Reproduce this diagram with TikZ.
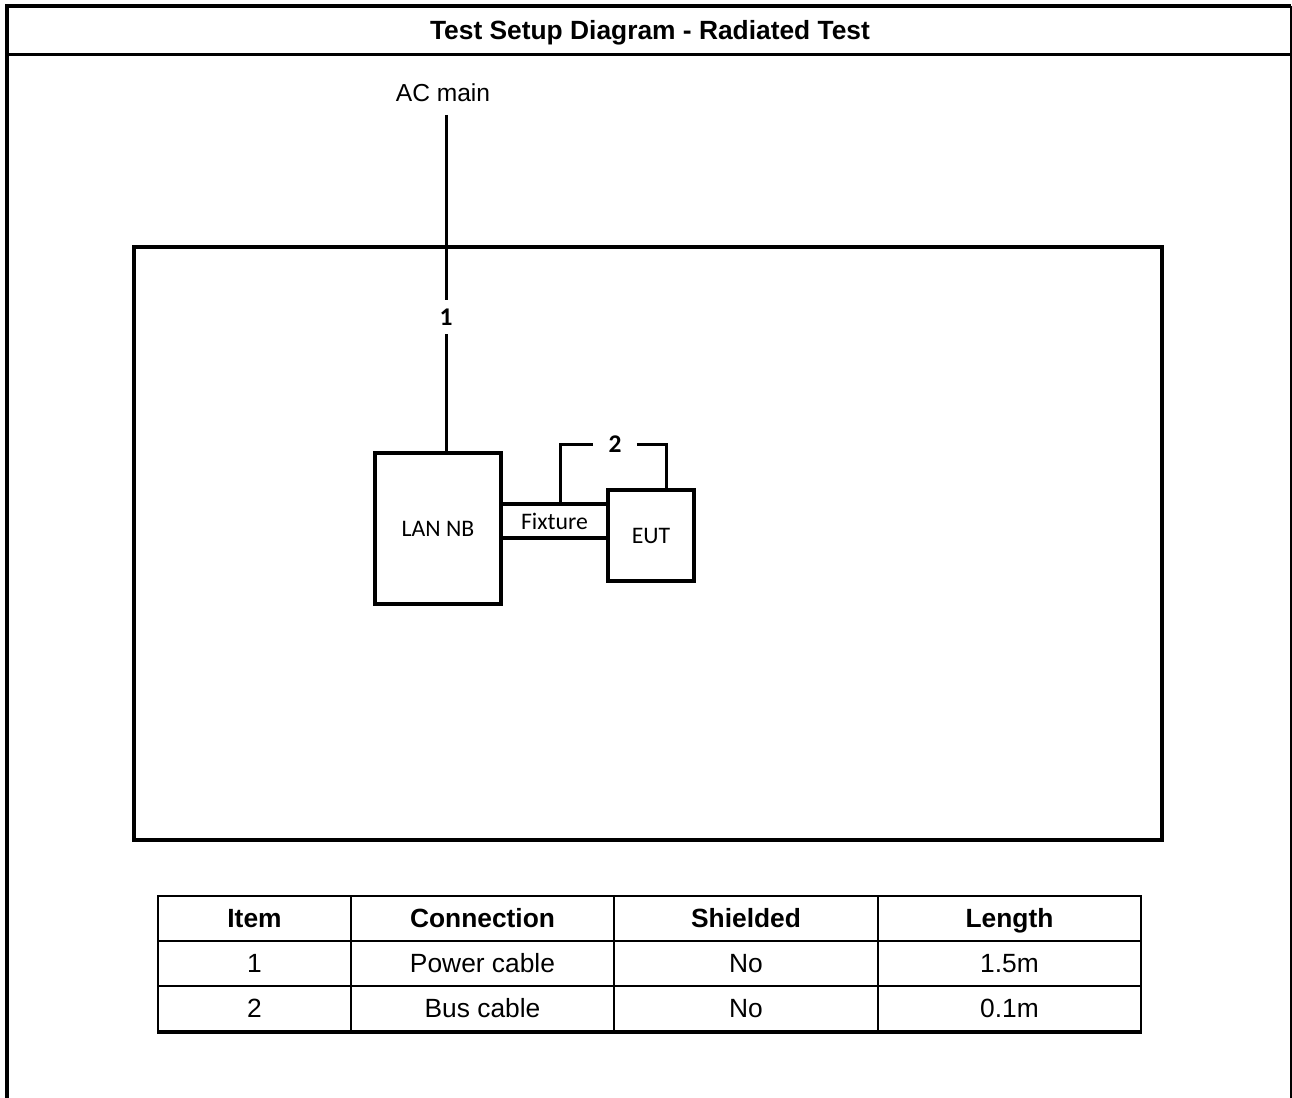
\documentclass[tikz,border=0pt]{standalone}
\usepackage{fontspec}
\setmainfont{Liberation Sans}
\newfontfamily\calibrifont{Carlito}
\usetikzlibrary{calc}

\tikzset{
  pageframe/.style={draw=black, line width=0.08cm},
  setupframe/.style={draw=black, line width=0.08cm},
  unitbox/.style={draw=black, line width=0.08cm, inner sep=0pt, align=center,
                  font=\calibrifont\fontsize{13.5}{16}\selectfont},
  cable/.style={draw=black, line width=0.06cm},
  cablenum/.style={font=\calibrifont\bfseries\fontsize{14.5}{17}\selectfont},
  cell/.style={draw=black, line width=0.04cm, minimum height=0.9cm, inner sep=0pt,
               text height=13.7pt, text depth=3pt,
               font=\fontsize{15}{18}\selectfont},
  headcell/.style={cell, font=\bfseries\fontsize{15}{18}\selectfont},
}

\begin{document}
\begin{tikzpicture}[x=0.02cm, y=-0.02cm]

\useasboundingbox (0,0) rectangle (1292,1098);

% Page frame and title
\draw[pageframe] (7,1098) -- (7,6) -- (1291,6);
\draw[draw=black, line width=0.04cm] (1291,6) -- (1291,1098);
\draw[draw=black, line width=0.05cm] (7,54.5) -- (1291,54.5);
\node[text height=13.7pt, text depth=3pt, inner sep=0pt,
      font=\bfseries\fontsize{15}{18}\selectfont] (title) at (650,30.5) {Test Setup Diagram - Radiated Test};

% Test table outline
\draw[setupframe] (134,247) rectangle (1162,840);

% Units
\node[unitbox, minimum width=2.52cm, minimum height=3.02cm] (lan) at (438,528.5) {LAN NB};
\node[unitbox, minimum width=2.14cm, minimum height=0.68cm] (fixture) at (554.5,521) {Fixture};
\node[unitbox, minimum width=1.72cm, minimum height=1.82cm] (eut) at (651,535.5) {EUT};

% Power cable (1)
\node[inner ysep=0.25cm, font=\fontsize{14}{16}\selectfont] (acmain) at (443,93) {AC main};
\node[cablenum, inner xsep=0pt, inner ysep=0.17cm] (n1) at (446,317) {1};
\draw[cable] (acmain.south -| n1.north) -- (n1.north);
\draw[cable] (n1.south) -- (n1.south |- lan.north);

% Bus cable (2)
\node[cablenum, inner xsep=0.3cm, inner ysep=0pt] (n2) at (615,444) {2};
\draw[cable] ([xshift=0.11cm]fixture.north) |- (n2.west);
\draw[cable] (n2.east) -| ([xshift=0.3cm]eut.north);

% Cable table
\foreach \x/\w/\head/\one/\two [count=\c] in
  {254.5/3.86/Item/1/2,
   482.5/5.26/Connection/Power cable/Bus cable,
   746/5.28/Shielded/No/No,
   1009.5/5.26/Length/1.5m/0.1m} {
  \node[headcell, minimum width=\w cm] (h\c) at (\x,918.5) {\head};
  \node[cell, minimum width=\w cm] (a\c) at (\x,963.5) {\one};
  \node[cell, minimum width=\w cm] (b\c) at (\x,1008.5) {\two};
}
\draw[draw=black, line width=0.06cm] (b1.south west) -- (b4.south east);

\end{tikzpicture}
\end{document}
